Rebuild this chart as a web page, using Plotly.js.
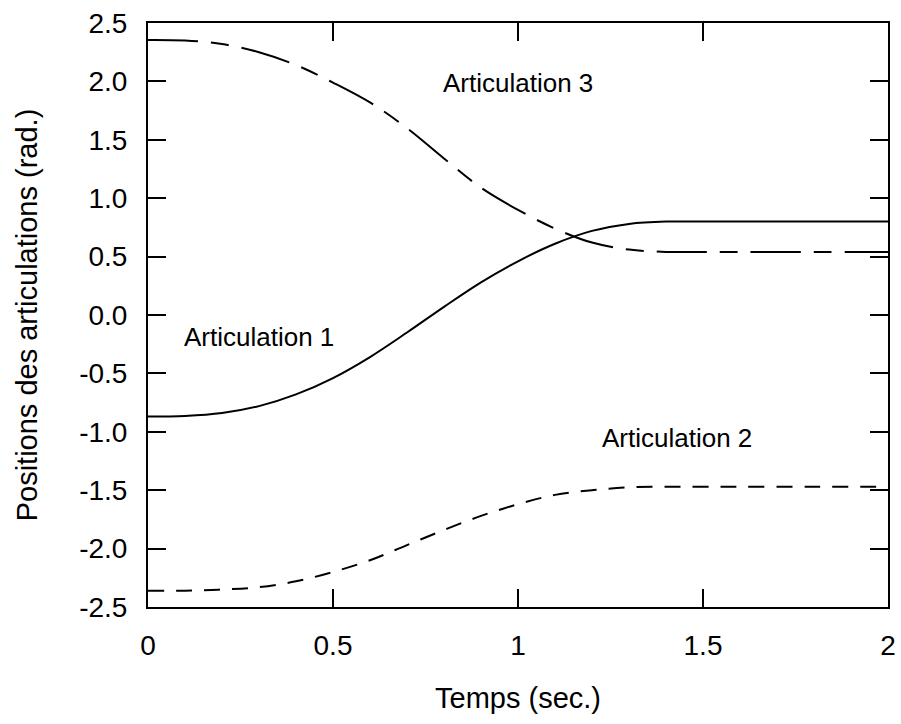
<!DOCTYPE html>
<html>
<head>
<meta charset="utf-8">
<script src="https://cdn.plot.ly/plotly-3.0.1.min.js"></script>
<style>html,body{margin:0;padding:0;background:#fff;}#chart{width:901px;height:724px;}</style>
</head>
<body>
<div id="chart"></div>
<script>
const time = [0, 0.1, 0.2, 0.3, 0.4, 0.5, 0.6, 0.7, 0.8, 0.9, 1.0, 1.1, 1.2, 1.3, 1.4, 1.5, 1.6, 1.8, 2.0];
const joint1 = [-0.87, -0.865, -0.84, -0.78, -0.68, -0.54, -0.36, -0.15, 0.07, 0.28, 0.46, 0.61, 0.72, 0.78, 0.80, 0.80, 0.80, 0.80, 0.80];
const joint2 = [-2.36, -2.36, -2.35, -2.33, -2.28, -2.20, -2.10, -1.97, -1.84, -1.72, -1.62, -1.54, -1.50, -1.475, -1.47, -1.47, -1.47, -1.47, -1.47];
const joint3 = [2.355, 2.35, 2.32, 2.25, 2.14, 1.99, 1.82, 1.60, 1.34, 1.09, 0.90, 0.74, 0.62, 0.56, 0.54, 0.54, 0.54, 0.54, 0.54];
const labels = ["Articulation 1", "Articulation 2", "Articulation 3"];
const labelX = [0.30, 1.43, 1.0];
const labelY = [-0.19, -1.05, 1.99];
const xTicks = [0, 0.5, 1, 1.5, 2];
const xTickText = ["0", "0.5", "1", "1.5", "2"];
const yTicks = [-2.5, -2.0, -1.5, -1.0, -0.5, 0.0, 0.5, 1.0, 1.5, 2.0, 2.5];
const yTickText = ["-2.5", "-2.0", "-1.5", "-1.0", "-0.5", "0.0", "0.5", "1.0", "1.5", "2.0", "2.5"];

const FONT = "Liberation Sans, Arial, sans-serif";
const traces = [
  {x: time, y: joint1, mode: "lines", line: {color: "#000", width: 2, shape: "spline", dash: "solid"}, name: labels[0]},
  {x: time, y: joint2, mode: "lines", line: {color: "#000", width: 2, shape: "spline", dash: "16px,12px"}, name: labels[1]},
  {x: time, y: joint3, mode: "lines", line: {color: "#000", width: 2, shape: "spline", dash: "50px,13px,18px,13px"}, name: labels[2]}
];
const annotations = labels.map((t, i) => ({
  x: labelX[i], y: labelY[i], xref: "x", yref: "y", text: t, showarrow: false,
  font: {family: FONT, size: 26, color: "#000"}
}));
const axisCommon = {
  showgrid: false, zeroline: false, showline: true, linecolor: "#000", linewidth: 2,
  mirror: "ticks", ticks: "inside", ticklen: 18, tickwidth: 2, tickcolor: "#000",
  tickfont: {family: FONT, size: 28, color: "#000"}
};
const layout = {
  width: 901, height: 724,
  margin: {l: 148, r: 13, t: 23, b: 117},
  paper_bgcolor: "#fff", plot_bgcolor: "#fff",
  showlegend: false,
  font: {family: FONT, color: "#000"},
  xaxis: Object.assign({}, axisCommon, {
    range: [0, 2], tickvals: xTicks, ticktext: xTickText, ticklabelstandoff: 12,
    title: {text: "Temps (sec.)", font: {family: FONT, size: 29, color: "#000"}, standoff: 28}
  }),
  yaxis: Object.assign({}, axisCommon, {
    range: [-2.5, 2.5], tickvals: yTicks, ticktext: yTickText, ticklabelstandoff: 13,
    title: {text: "Positions des articulations (rad.)", font: {family: FONT, size: 29, color: "#000"}, standoff: 33}
  }),
  annotations: annotations
};
Plotly.newPlot("chart", traces, layout, {staticPlot: true});
</script>
</body>
</html>
